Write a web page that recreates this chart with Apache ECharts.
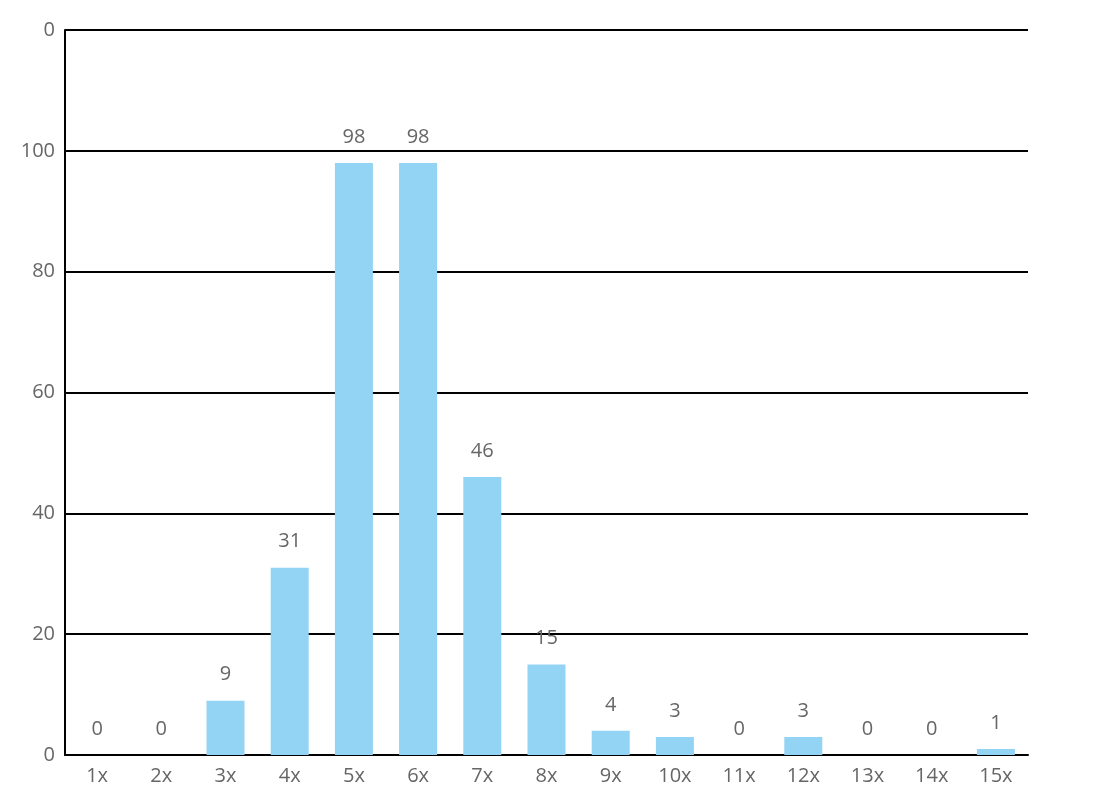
<!DOCTYPE html>
<html>
<head>
<meta charset="utf-8">
<script src="https://cdn.jsdelivr.net/npm/echarts@6/dist/echarts.min.js"></script>
<style>
html,body{margin:0;padding:0;background:#fff;}
#chart{width:1106px;height:800px;}
</style>
</head>
<body>
<div id="chart"></div>
<script>
const categories = ["1x","2x","3x","4x","5x","6x","7x","8x","9x","10x","11x","12x","13x","14x","15x"];
const values = [0,0,9,31,98,98,46,15,4,3,0,3,0,0,1];
const yTickLabels = {0:"0",20:"20",40:"40",60:"60",80:"80",100:"100",120:"0"};

const chart = echarts.init(document.getElementById('chart'));
const fontFamily = '"Open Sans", "Noto Sans", sans-serif';
chart.setOption({
  animation: false,
  backgroundColor: '#fff',
  grid: {left: 65, right: 78, top: 30, bottom: 45, containLabel: false},
  xAxis: {
    type: 'category',
    data: categories,
    axisLine: {show: true, lineStyle: {color: '#000', width: 2}},
    axisTick: {show: false},
    axisLabel: {color: '#666', fontSize: 20, fontFamily: fontFamily, margin: 11}
  },
  yAxis: {
    type: 'value',
    min: 0, max: 120, interval: 20,
    axisLine: {show: true, lineStyle: {color: '#000', width: 2}},
    axisTick: {show: false},
    splitLine: {show: true, lineStyle: {color: '#000', width: 2}},
    axisLabel: {
      color: '#666', fontSize: 20, fontFamily: fontFamily, margin: 10,
      formatter: v => yTickLabels[v] !== undefined ? yTickLabels[v] : String(v)
    }
  },
  series: [{
    type: 'bar',
    data: values,
    barWidth: 38,
    itemStyle: {color: '#93d3f3'},
    label: {show: true, position: 'top', distance: 16, color: '#666', fontSize: 20, fontFamily: fontFamily}
  }]
});
</script>
</body>
</html>
